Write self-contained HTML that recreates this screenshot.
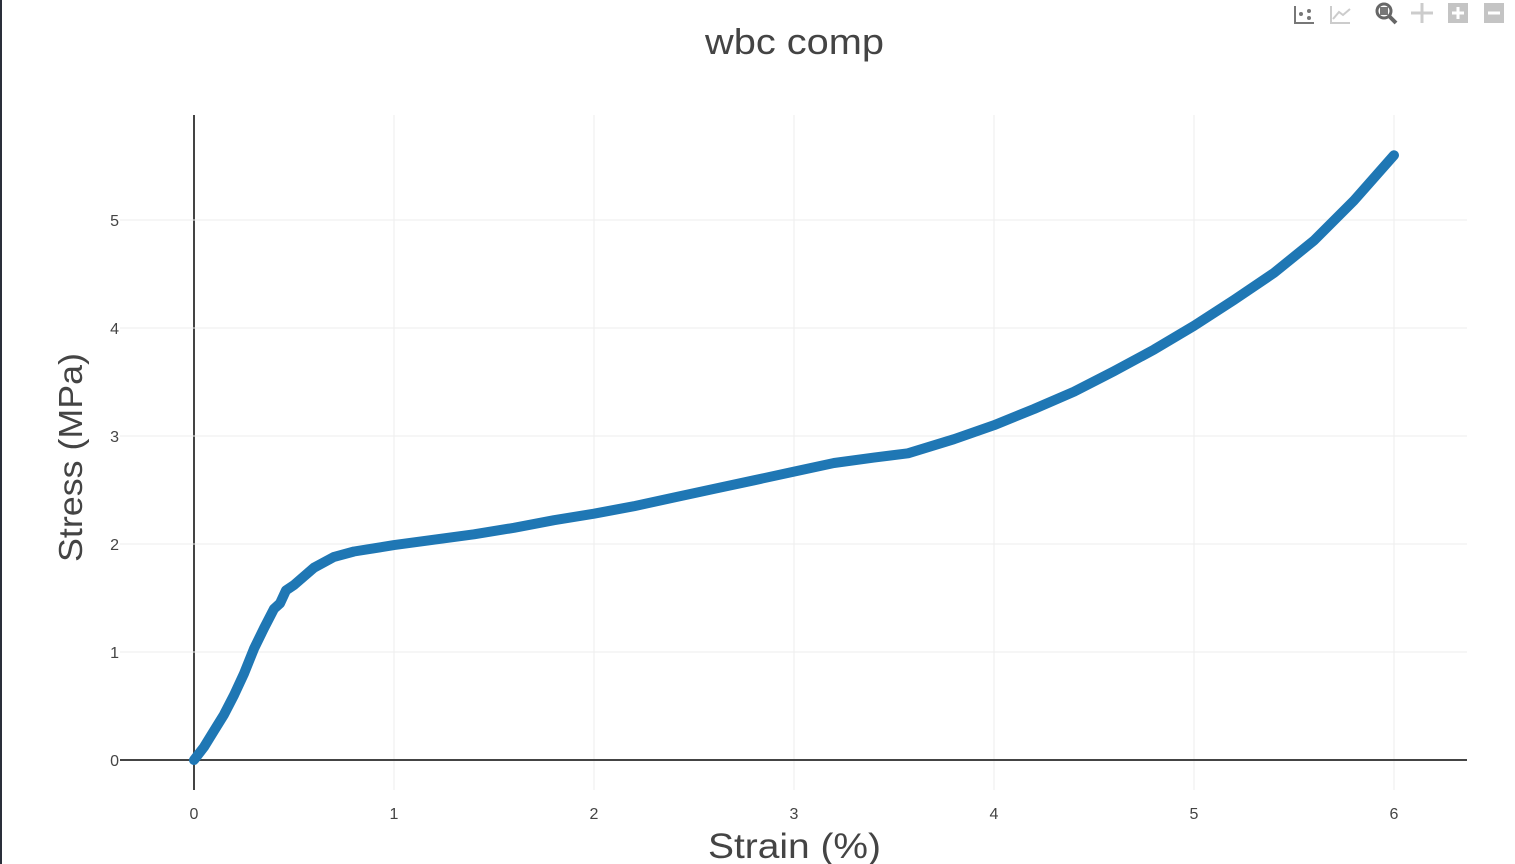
<!DOCTYPE html>
<html><head><meta charset="utf-8"><style>
html,body{margin:0;padding:0;background:#fff;}
body{width:1515px;height:864px;overflow:hidden;position:relative;font-family:"Liberation Sans",sans-serif;}
#border{position:absolute;left:0;top:0;width:2px;height:864px;background:#2a2f3a;}
</style></head><body>
<div id="border"></div>
<svg id="chart" width="1515" height="864" style="position:absolute;left:0;top:0">
<g id="toolbar">
  <g fill="#777">
    <rect x="1294" y="6" width="2" height="18"/><rect x="1294" y="22" width="20" height="2"/>
    <circle cx="1301" cy="14" r="2"/><circle cx="1309" cy="11" r="2"/><circle cx="1309" cy="18" r="2"/>
  </g>
  <g fill="none" stroke="#ccc" stroke-width="2">
    <path d="M1331 6 V23 H1350"/><path d="M1333 19 L1339 12 L1343 15 L1350 9"/>
  </g>
  <g>
    <circle cx="1384" cy="11" r="7" fill="none" stroke="#666" stroke-width="3"/>
    <rect x="1380" y="7" width="8" height="8" fill="#777"/>
    <path d="M1389 16 L1396 23" stroke="#666" stroke-width="4"/>
  </g>
  <g stroke="#ccc" stroke-width="3" fill="#ccc">
    <path d="M1422 3 V23 M1411 13 H1433"/>
  </g>
  <g>
    <rect x="1448" y="3" width="20" height="20" fill="#c4c4c4"/>
    <path d="M1452 13 H1464 M1458 7 V19" stroke="#fff" stroke-width="3"/>
  </g>
  <g>
    <rect x="1484" y="3" width="20" height="20" fill="#c4c4c4"/>
    <path d="M1488 13 H1500" stroke="#fff" stroke-width="3"/>
  </g>
</g>
<text x="705" y="54" textLength="179" lengthAdjust="spacingAndGlyphs" font-size="36" fill="#444">wbc comp</text>
<g id="grid"></g>
<g id="ticks"></g>
<g id="series"></g>
<text x="708" y="858" textLength="173" lengthAdjust="spacingAndGlyphs" font-size="35" fill="#444">Strain (%)</text>
<text transform="translate(82,562) rotate(-90)" textLength="209" lengthAdjust="spacingAndGlyphs" font-size="33" fill="#444">Stress (MPa)</text>
</svg>
<script>
const strain = [0,0.05,0.1,0.15,0.2,0.25,0.3,0.35,0.4,0.43,0.46,0.5,0.6,0.7,0.8,0.9,1.0,1.2,1.4,1.6,1.8,2.0,2.2,2.4,2.6,2.8,3.0,3.2,3.4,3.57,3.8,4.0,4.2,4.4,4.6,4.8,5.0,5.2,5.4,5.6,5.8,6.0];
const stress = [0,0.12,0.27,0.42,0.6,0.8,1.03,1.22,1.4,1.45,1.57,1.62,1.78,1.88,1.93,1.96,1.99,2.04,2.09,2.15,2.22,2.28,2.35,2.43,2.51,2.59,2.67,2.75,2.80,2.84,2.97,3.1,3.25,3.41,3.6,3.8,4.02,4.26,4.51,4.81,5.18,5.6];
const xTicks = [0,1,2,3,4,5,6];
const yTicks = [0,1,2,3,4,5];
const NS="http://www.w3.org/2000/svg";
const L=120,R=1467,T=115,B=790;
const xMin=-0.37,xMax=6.365,yMin=-0.278,yMax=5.972;
const X=v=>L+(v-xMin)/(xMax-xMin)*(R-L);
const Y=v=>B-(v-yMin)/(yMax-yMin)*(B-T);
function mk(tag,attrs,parent){const e=document.createElementNS(NS,tag);for(const k in attrs)e.setAttribute(k,attrs[k]);parent.appendChild(e);return e;}
const grid=document.getElementById('grid'),ticks=document.getElementById('ticks'),series=document.getElementById('series');
xTicks.forEach(t=>{
  const l=mk('line',{x1:X(t),x2:X(t),y1:T,y2:B,stroke:t===0?'#444':'#eee','stroke-width':t===0?2:1},grid);
  
  
  const tx=mk('text',{x:X(t),y:819,'text-anchor':'middle','font-size':16,fill:'#444'},ticks);
  tx.textContent=t;
  
  
});
yTicks.forEach(t=>{
  const l=mk('line',{x1:L,x2:R,y1:Y(t),y2:Y(t),stroke:t===0?'#444':'#eee','stroke-width':t===0?2:1},grid);
  
  
  const tx=mk('text',{x:119,y:Y(t)+6,'text-anchor':'end','font-size':16,fill:'#444'},ticks);
  tx.textContent=t;
  
  
});
const d=strain.map((s,i)=>(i?'L':'M')+X(s).toFixed(1)+' '+Y(stress[i]).toFixed(1)).join(' ');
const p=mk('path',{d:d,fill:'none',stroke:'#1f77b4','stroke-width':10,'stroke-linejoin':'round','stroke-linecap':'round'},series);


</script>
</body></html>
